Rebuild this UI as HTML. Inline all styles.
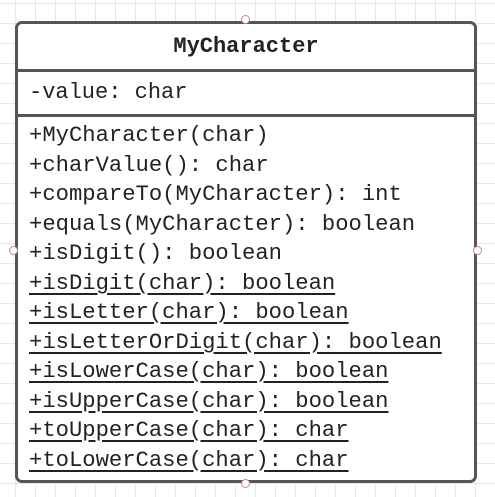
<!DOCTYPE html>
<html><head><style>
body{margin:0;width:495px;height:497px;overflow:hidden;background:#fff;
background-image:linear-gradient(#e8e8e8 1px,transparent 1px),linear-gradient(90deg,#e8e8e8 1px,transparent 1px);
background-size:20px 20px;background-position:15px 3px;position:relative;font-family:"Liberation Mono",monospace;color:#222}
.box{position:absolute;left:15px;top:21px;width:456px;height:456px;border:3px solid #555;border-radius:7px;background:#fff}
.title{height:45px;line-height:45px;text-align:center;font-weight:bold;font-size:22px;border-bottom:3px solid #555}
.attr{height:42px;line-height:42px;padding-left:11px;font-size:22px;border-bottom:3px solid #555}
.m{padding:4px 0 0 11px;font-size:22.2px}
.m div{height:29.5px;line-height:29.5px;white-space:pre}
.u{text-decoration:underline;text-underline-offset:4px}
.c{position:absolute;width:7px;height:7px;border:1px solid #c88;border-radius:50%;background:#fff}
</style></head><body>
<div class="box">
<div class="title">MyCharacter</div>
<div class="attr">-value: char</div>
<div class="m">
<div>+MyCharacter(char)</div>
<div>+charValue(): char</div>
<div>+compareTo(MyCharacter): int</div>
<div>+equals(MyCharacter): boolean</div>
<div>+isDigit(): boolean</div>
<div class="u">+isDigit(char): boolean</div>
<div class="u">+isLetter(char): boolean</div>
<div class="u">+isLetterOrDigit(char): boolean</div>
<div class="u">+isLowerCase(char): boolean</div>
<div class="u">+isUpperCase(char): boolean</div>
<div class="u">+toUpperCase(char): char</div>
<div class="u">+toLowerCase(char): char</div>
</div>
</div>
<div class="c" style="left:241px;top:15px"></div>
<div class="c" style="left:9px;top:246px"></div>
<div class="c" style="left:473px;top:246px"></div>
<div class="c" style="left:241px;top:479px"></div>
</body></html>
